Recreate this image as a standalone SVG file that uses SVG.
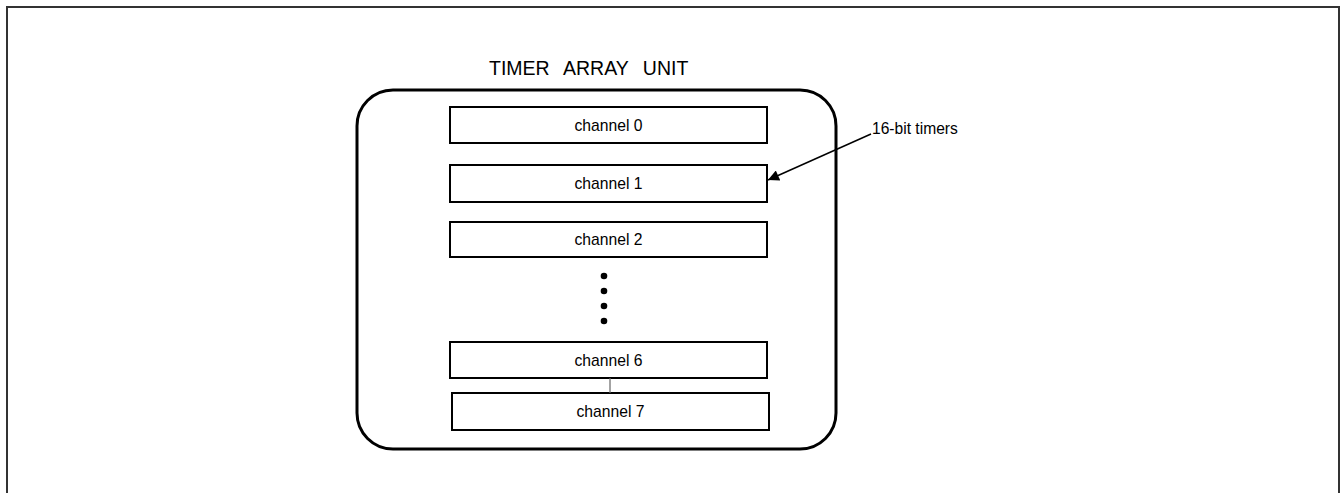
<svg xmlns="http://www.w3.org/2000/svg" width="1341" height="493" viewBox="0 0 1341 493">
<style>
.frame{fill:none;stroke:#333;stroke-width:2}
.unit{fill:#fff;stroke:#000;stroke-width:3}
.ch{fill:#fff;stroke:#000;stroke-width:2}
.lbl{font-family:"Liberation Sans",Arial,sans-serif;font-size:15.7px;fill:#000;text-anchor:middle}
.title{font-family:"Liberation Sans",Arial,sans-serif;font-size:19.5px;fill:#000;word-spacing:9px}
.note{font-family:"Liberation Sans",Arial,sans-serif;font-size:15.6px;fill:#000}
.dot{fill:#000}
</style>
<defs>
<marker id="ah" viewBox="0 0 10 10" refX="10" refY="5" markerWidth="16" markerHeight="11" markerUnits="userSpaceOnUse" orient="auto">
<path d="M0,0 L10,5 L0,10 Z" fill="#000"/>
</marker>
</defs>
<rect width="1341" height="493" fill="#fff"/>
<path class="frame" d="M7,500 V7 H1339 V500"/>
<g id="unit">
<text class="title" x="489" y="75">TIMER ARRAY UNIT</text>
<rect class="unit" x="357" y="90" width="479" height="359" rx="36" ry="36"/>
</g>
<g id="channel0"><rect class="ch" x="450" y="107" width="317" height="36"/><text class="lbl" x="608.5" y="130.5">channel 0</text></g>
<g id="channel1"><rect class="ch" x="450" y="165" width="317" height="37"/><text class="lbl" x="608.5" y="189">channel 1</text></g>
<g id="channel2"><rect class="ch" x="450" y="222" width="317" height="35"/><text class="lbl" x="608.5" y="245">channel 2</text></g>
<g id="ellipsis">
<circle class="dot" cx="604" cy="276" r="3.3"/>
<circle class="dot" cx="604" cy="291" r="3.3"/>
<circle class="dot" cx="604" cy="306" r="3.3"/>
<circle class="dot" cx="604" cy="321" r="3.3"/>
</g>
<g id="channel6"><rect class="ch" x="450" y="342" width="317" height="36"/><text class="lbl" x="608.5" y="365.5">channel 6</text></g>
<g id="channel7"><rect class="ch" x="452" y="393" width="317" height="37"/><text class="lbl" x="610.5" y="417">channel 7</text></g>
<g id="label16"><text class="note" x="872" y="134">16-bit timers</text></g>
<g id="connectors">
<line x1="610" y1="378" x2="610" y2="393" stroke="#666" stroke-width="1.2"/>
<line x1="871" y1="134" x2="768" y2="180" stroke="#000" stroke-width="1.5" marker-end="url(#ah)"/>
</g>
</svg>
